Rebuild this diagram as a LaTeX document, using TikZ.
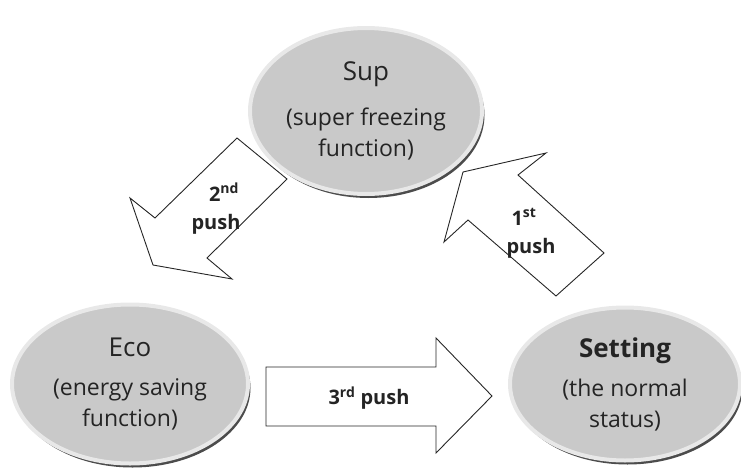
\documentclass[tikz,border=0pt]{standalone}
\usepackage{fontspec}
\setmainfont{Open Sans}
\usetikzlibrary{shapes.geometric, shadows}
\definecolor{statefill}{RGB}{201,201,201}
\definecolor{staterim}{RGB}{232,232,232}
\definecolor{textgray}{RGB}{36,36,36}
\newcommand{\statetitle}[1]{{\fontsize{26}{31}\selectfont #1}}

\begin{document}
\begin{tikzpicture}[
  x=1pt, y=-1pt,
  state/.style={ellipse, fill=statefill, draw=staterim, line width=4pt,
    inner sep=-25pt, align=center, text=textgray,
    font=\fontsize{23}{31}\selectfont,
    drop shadow={shadow xshift=2.5pt, shadow yshift=-4pt, fill=black!70, opacity=1}},
  blockarrow/.style={draw=black!85, line width=0.9pt, fill=white, line join=miter},
  pushlabel/.style={font=\fontsize{20}{22}\selectfont\bfseries, text=textgray, inner sep=0pt}
]
\useasboundingbox (0,0) rectangle (741,476);

% block arrows first, the states sit on top of them
\draw[blockarrow] (237,138) -- (287,179) -- (207,258) -- (232,279) -- (153,265)
  -- (130,198) -- (155,218) -- cycle;
\draw[blockarrow] (604,253) -- (518,175) -- (546,153) -- (463,172) -- (444,242)
  -- (468,220) -- (556,296) -- cycle;
\draw[blockarrow] (266,367) -- (436,367) -- (436,338) -- (492,396) -- (436,453)
  -- (436,426) -- (266,426) -- cycle;

% the three states
\node[state, minimum width=232pt, minimum height=166pt] (sup) at (366,111)
  {\statetitle{Sup}\\[14pt](super freezing\\function)};
\node[state, minimum width=236pt, minimum height=159pt] (eco) at (130,384)
  {\statetitle{Eco}\\[8pt](energy saving\\function)};
\node[state, minimum width=230pt, minimum height=153pt] (set) at (625,384)
  {\statetitle{\textbf{Setting}}\\[8pt](the normal\\status)};

% push labels
\node[pushlabel] (sec) at (224,192) {2\textsuperscript{nd}};
\node[pushlabel] (secpush) at (216,224) {push};
\node[pushlabel] (fst) at (524,217) {1\textsuperscript{st}};
\node[pushlabel] (fstpush) at (531,248) {push};
\node[pushlabel] (thd) at (369,398) {3\textsuperscript{rd} push};

\end{tikzpicture}
\end{document}
